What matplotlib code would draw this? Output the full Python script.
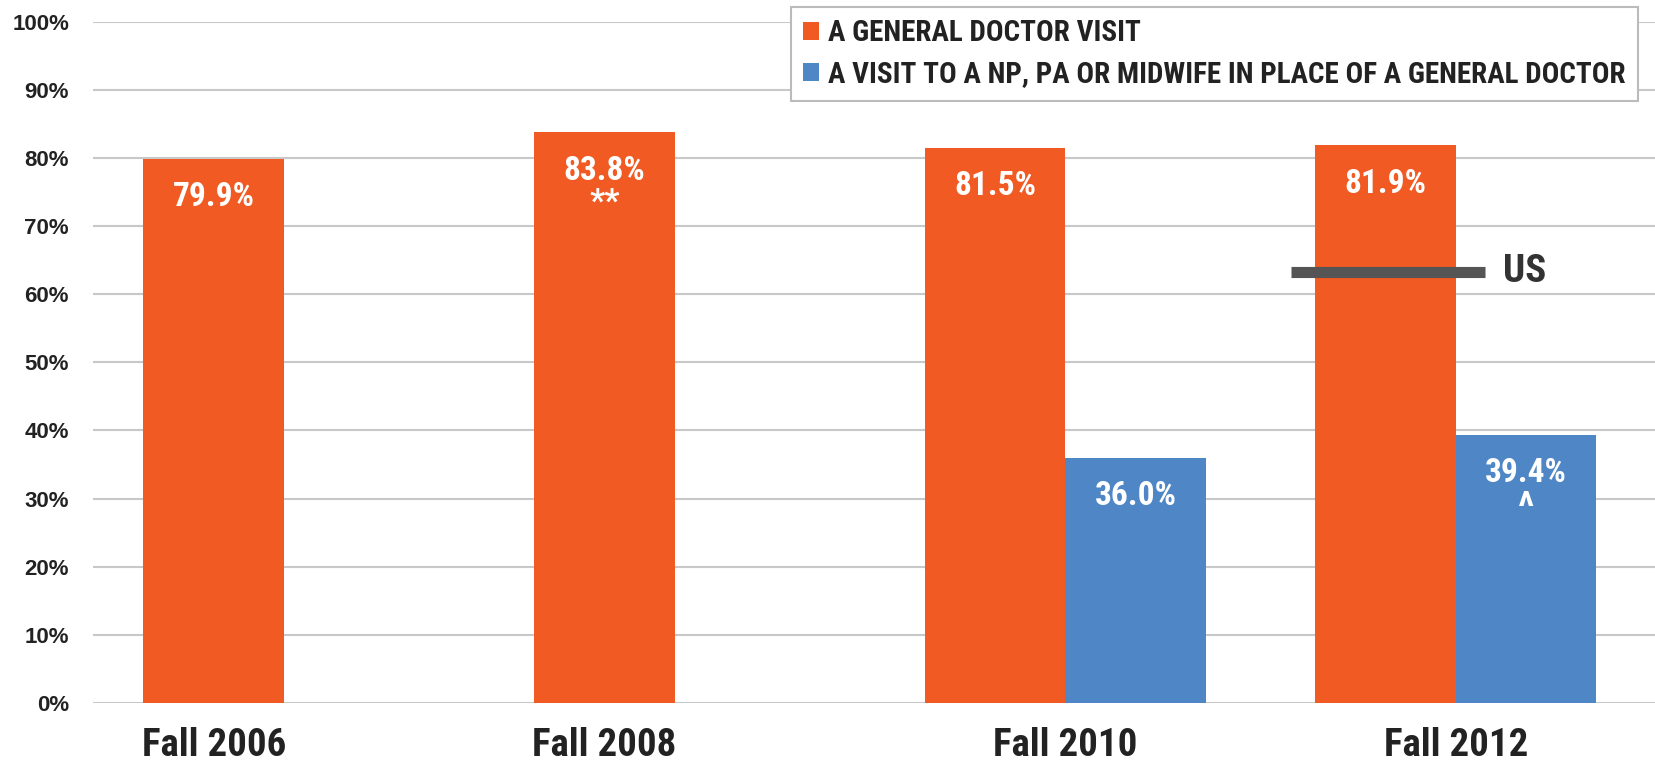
import matplotlib.pyplot as plt
import numpy as np
from matplotlib import font_manager

years = ['Fall 2006', 'Fall 2008', 'Fall 2010', 'Fall 2012']
general_doctor = [79.9, 83.8, 81.5, 81.9]
np_pa_midwife = [None, None, 36.0, 39.4]
general_notes = ['', '**', '', '']
np_notes = ['', '', '', '^']
us_value = 63.3

names = {f.name for f in font_manager.fontManager.ttflist}
narrow = 'Liberation Sans Narrow' if 'Liberation Sans Narrow' in names else 'Roboto Condensed' if 'Roboto Condensed' in names else 'DejaVu Sans'

orange = '#F15A22'
blue = '#4F86C6'

fig = plt.figure(figsize=(16.55, 7.61), dpi=100)
ax = fig.add_axes([0.056, 0.0763, 0.944, 0.895])


def value_label(xpos, val, note):
    ax.text(xpos, val - 3.3, f'{val:.1f}%', ha='center', va='top', color='white',
            fontsize=24, fontweight='bold', family=narrow, zorder=3)
    if note:
        size = 30 if note == '^' else 24
        ax.text(xpos, val - 8.0, note, ha='center', va='top', color='white',
                fontsize=size, fontweight='bold', family=narrow, zorder=3)


x = np.arange(len(years))
w = 0.36
for i in range(len(years)):
    ax.bar(x[i] - w / 2, general_doctor[i], width=w, color=orange, zorder=2,
           label='A GENERAL DOCTOR VISIT' if i == 0 else None)
    value_label(x[i] - w / 2, general_doctor[i], general_notes[i])
    if np_pa_midwife[i] is not None:
        ax.bar(x[i] + w / 2, np_pa_midwife[i], width=w, color=blue, zorder=2,
               label='A VISIT TO A NP, PA OR MIDWIFE IN PLACE OF A GENERAL DOCTOR' if i == 2 else None)
        value_label(x[i] + w / 2, np_pa_midwife[i], np_notes[i])

# US reference line over the Fall 2012 group
ax.plot([x[3] - w - 0.062, x[3] + 0.076], [us_value, us_value], color='#555555',
        lw=8, solid_capstyle='butt', zorder=4)
ax.text(x[3] + 0.12, us_value, 'US', color='#333333', fontsize=28, fontweight='bold',
        family=narrow, va='center', ha='left', zorder=4)

ax.set_xlim(-0.49, 3.51)
ax.set_ylim(0, 100)
ax.set_yticks(range(0, 101, 10))
ax.set_yticklabels([f'{v}%' for v in range(0, 101, 10)], fontsize=16, fontweight='bold',
                   family='Liberation Sans', color='#222222')
tick_pos = [x[0] - w / 2, x[1] - w / 2, x[2], x[3]]
ax.set_xticks(tick_pos)
ax.set_xticklabels(years, fontsize=28, fontweight='bold', family=narrow, color='#222222')
ax.tick_params(axis='both', length=0)
ax.tick_params(axis='y', pad=17)
ax.tick_params(axis='x', pad=17)
ax.yaxis.grid(True, color='#C8C8C8', lw=1.5, zorder=0)
for s in ax.spines.values():
    s.set_visible(False)

leg = ax.legend(loc='upper right', bbox_to_anchor=(0.9985, 1.043),
                prop={'family': narrow, 'weight': 'bold', 'size': 21},
                frameon=True, fancybox=False, edgecolor='#BBBBBB', framealpha=1,
                handlelength=0.55, handleheight=0.55, handletextpad=0.3,
                labelspacing=0.45, borderpad=0.42)
leg.get_frame().set_linewidth(1.5)
leg.set_zorder(5)
for t in leg.get_texts():
    t.set_color('#222222')

fig.savefig('out.png', dpi=100)
